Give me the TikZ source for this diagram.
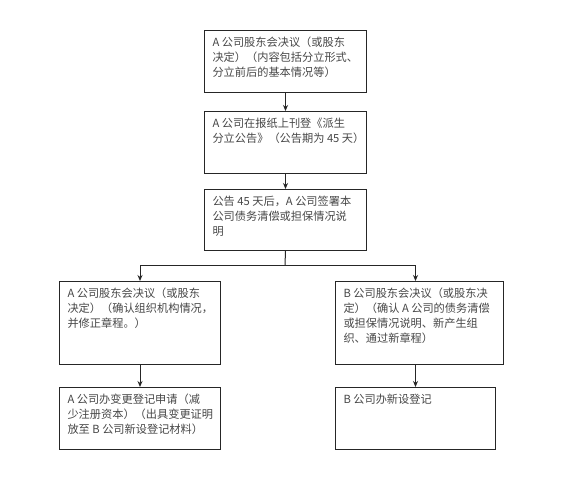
\documentclass[tikz,border=0pt]{standalone}
\usepackage{fontspec}
\setmainfont{Noto Sans CJK SC}
\usetikzlibrary{arrows.meta}
\begin{document}
\begin{tikzpicture}[x=1pt,y=-1pt,
  boxnode/.style={draw=black!85, line width=1pt, anchor=north west, inner xsep=8pt, inner ysep=6.5pt,
    font=\fontsize{11.2pt}{15pt}\selectfont, text=black!72},
  arr/.style={draw=black!85, line width=1pt, -{Stealth[length=6pt,width=5pt]}},
  ln/.style={draw=black!85, line width=1pt}]
\useasboundingbox (0,0) rectangle (578,500);
\fill[white] (0,0) rectangle (578,500);
\node[boxnode] (b1) at (204,30) {\parbox[c][49pt][t]{146pt}{\mbox{A 公司股东会决议（或股东}\\\mbox{决定）（内容包括分立形式、}\\\mbox{分立前后的基本情况等）}}};
\node[boxnode] (b2) at (204,111) {\parbox[c][49pt][t]{146pt}{\mbox{A 公司在报纸上刊登《派生}\\\mbox{分立公告》（公告期为 45 天）}}};
\node[boxnode] (b3) at (204,189) {\parbox[c][48pt][t]{146pt}{\mbox{公告 45 天后，A 公司签署本}\\\mbox{公司债务清偿或担保情况说}\\\mbox{明}}};
\node[boxnode] (l1) at (59,281) {\parbox[c][70pt][t]{145pt}{\mbox{A 公司股东会决议（或股东}\\\mbox{决定）（确认组织机构情况，}\\\mbox{并修正章程。）}}};
\node[boxnode] (l2) at (59,387) {\parbox[c][49pt][t]{145pt}{\mbox{A 公司办变更登记申请（减}\\\mbox{少注册资本）（出具变更证明}\\\mbox{放至 B 公司新设登记材料）}}};
\node[boxnode] (r1) at (335,281) {\parbox[c][70pt][t]{152pt}{\mbox{B 公司股东会决议（或股东决}\\\mbox{定）（确认 A 公司的债务清偿}\\\mbox{或担保情况说明、新产生组}\\\mbox{织、通过新章程）}}};
\node[boxnode] (r2) at (335,387) {\parbox[c][49pt][t]{144pt}{\mbox{B 公司办新设登记}}};
\coordinate (j) at (285,265);
\draw[arr] (b1.south) -- (b2.north);
\draw[arr] (b2.south) -- (b3.north);
\draw[ln] (b3.south) -- (j);
\draw[arr] (j) -| (l1.north);
\draw[arr] (j) -| (r2.north |- r1.north);
\draw[arr] (l1.south) -- (l2.north);
\draw[arr] (r2.north |- r1.south) -- (r2.north);
\end{tikzpicture}
\end{document}
